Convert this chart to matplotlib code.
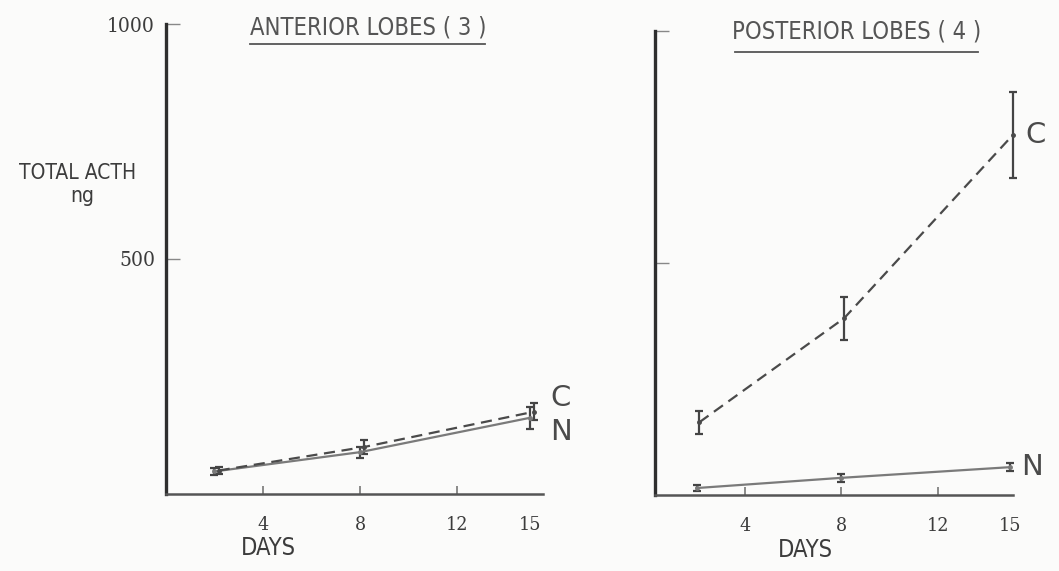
import matplotlib
matplotlib.use("Agg")
import matplotlib.pyplot as plt
from matplotlib.lines import Line2D
import matplotlib.transforms as mtransforms

# Sampling days and total ACTH (ng), mean with error
days = [2, 8, 15]

ant_C = [50, 100, 175]
ant_C_err = [8, 14, 18]
ant_N = [48, 89, 162]
ant_N_err = [8, 12, 24]

post_C = [157, 381, 776]
post_C_err = [25, 46, 92]
post_N = [15, 37, 60]
post_N_err = [6, 8, 9]

x_ticks = [4, 8, 12, 15]
x_tick_labels = ["4", "8", "12", "15"]
y_ticks = [500, 1000]
y_tick_labels = ["500", "1000"]

titles = ["ANTERIOR LOBES ( 3 )", "POSTERIOR LOBES ( 4 )"]
series_labels = ["C", "N"]

W, H = 1059, 571
fig = plt.figure(figsize=(W / 100, H / 100), dpi=100)
fig.patch.set_facecolor("#fbfbfa")

SANS = dict(fontfamily="DejaVu Sans", fontstretch="condensed")
SERIF = dict(fontfamily="DejaVu Serif", fontstretch="condensed")
AXIS_COL = "#2e2e2e"
TEXT_COL = "#3c3c3c"


def px_axes(x0, y0, x1, y1):
    # axes box from pixel corners (top-left origin)
    return fig.add_axes([x0 / W, 1 - y1 / H, (x1 - x0) / W, (y1 - y0) / H])


def shift(dx_pt):
    return mtransforms.ScaledTranslation(dx_pt / 72, 0, fig.dpi_scale_trans)


def style(ax, xlim, show_ylabels, last_label_dx):
    ax.set_facecolor("none")
    ax.set_xlim(*xlim)
    ax.set_ylim(0, 1000)
    for s in ("top", "right"):
        ax.spines[s].set_visible(False)
    ax.spines["left"].set_linewidth(2.4)
    ax.spines["left"].set_color(AXIS_COL)
    ax.spines["bottom"].set_linewidth(1.8)
    ax.spines["bottom"].set_color("#555555")
    ax.set_xticks(x_ticks)
    ax.set_xticklabels(x_tick_labels, fontsize=14, color=TEXT_COL, **SERIF)
    ax.xaxis.get_major_ticks()[-1].tick1line.set_visible(False)
    last = ax.get_xticklabels()[-1]
    last.set_transform(last.get_transform() + shift(last_label_dx))
    ax.tick_params(axis="x", direction="in", length=6, width=1.2, color="#777777", pad=16)
    ax.set_yticks(y_ticks)
    if show_ylabels:
        ax.set_yticklabels(y_tick_labels, fontsize=15, color=TEXT_COL, **SERIF)
    else:
        ax.set_yticklabels([])
    ax.tick_params(axis="y", direction="in", length=10, width=1.0, color="#888888", pad=8)


def series(ax, y, err, dashed, dx_pt=0):
    ax.errorbar(days, y, yerr=err, color="#4a4a4a" if dashed else "#7a7a7a",
                ecolor="#444444", linestyle=(0, (5, 3)) if dashed else "-",
                linewidth=1.6, elinewidth=1.6, capsize=3, capthick=1.6,
                marker="o", markersize=2.5, transform=ax.transData + shift(dx_pt),
                clip_on=False)


def end_label(ax, text, y, dx, dy):
    ax.annotate(text, (days[-1], y), xytext=(dx, dy), textcoords="offset points",
                fontsize=21, color="#4a4a4a", fontfamily="DejaVu Sans",
                va="center", ha="left")


# Anterior lobes
ax1 = px_axes(166, 24, 543, 494)
style(ax1, (0, 15.55), True, 8)
series(ax1, ant_N, ant_N_err, False)
series(ax1, ant_C, ant_C_err, True, dx_pt=3)
end_label(ax1, series_labels[0], ant_C[-1], 15, 10)
end_label(ax1, series_labels[1], ant_N[-1], 15, -10)

# Posterior lobes
ax2 = px_axes(655, 31, 1013, 495)
style(ax2, (0.27, 15.12), False, 3)
series(ax2, post_N, post_N_err, False)
series(ax2, post_C, post_C_err, True, dx_pt=2)
end_label(ax2, series_labels[0], post_C[-1], 11, 0)
end_label(ax2, series_labels[1], post_N[-1], 8, 0)

# Axis captions
fig.text(268 / W, 1 - 548 / H, "DAYS", fontsize=17, color=TEXT_COL,
         ha="center", va="center", **SANS)
fig.text(805 / W, 1 - 550 / H, "DAYS", fontsize=17, color=TEXT_COL,
         ha="center", va="center", **SANS)
fig.text(78 / W, 1 - 173 / H, "TOTAL ACTH", fontsize=15, color=TEXT_COL,
         ha="center", va="center", **SANS)
fig.text(82 / W, 1 - 196 / H, "ng", fontsize=15, color=TEXT_COL,
         ha="center", va="center", **SANS)

# Underlined panel titles
fig.text(368 / W, 1 - 28 / H, titles[0], fontsize=17, color="#555555",
         ha="center", va="center", **SANS)
fig.add_artist(Line2D([250 / W, 485 / W], [1 - 44 / H, 1 - 44 / H],
                      color="#555555", linewidth=1.3))
fig.text(857 / W, 1 - 32 / H, titles[1], fontsize=17, color="#555555",
         ha="center", va="center", **SANS)
fig.add_artist(Line2D([735 / W, 978 / W], [1 - 52 / H, 1 - 52 / H],
                      color="#555555", linewidth=1.3))

fig.savefig("out.png", dpi=100, facecolor=fig.get_facecolor())
